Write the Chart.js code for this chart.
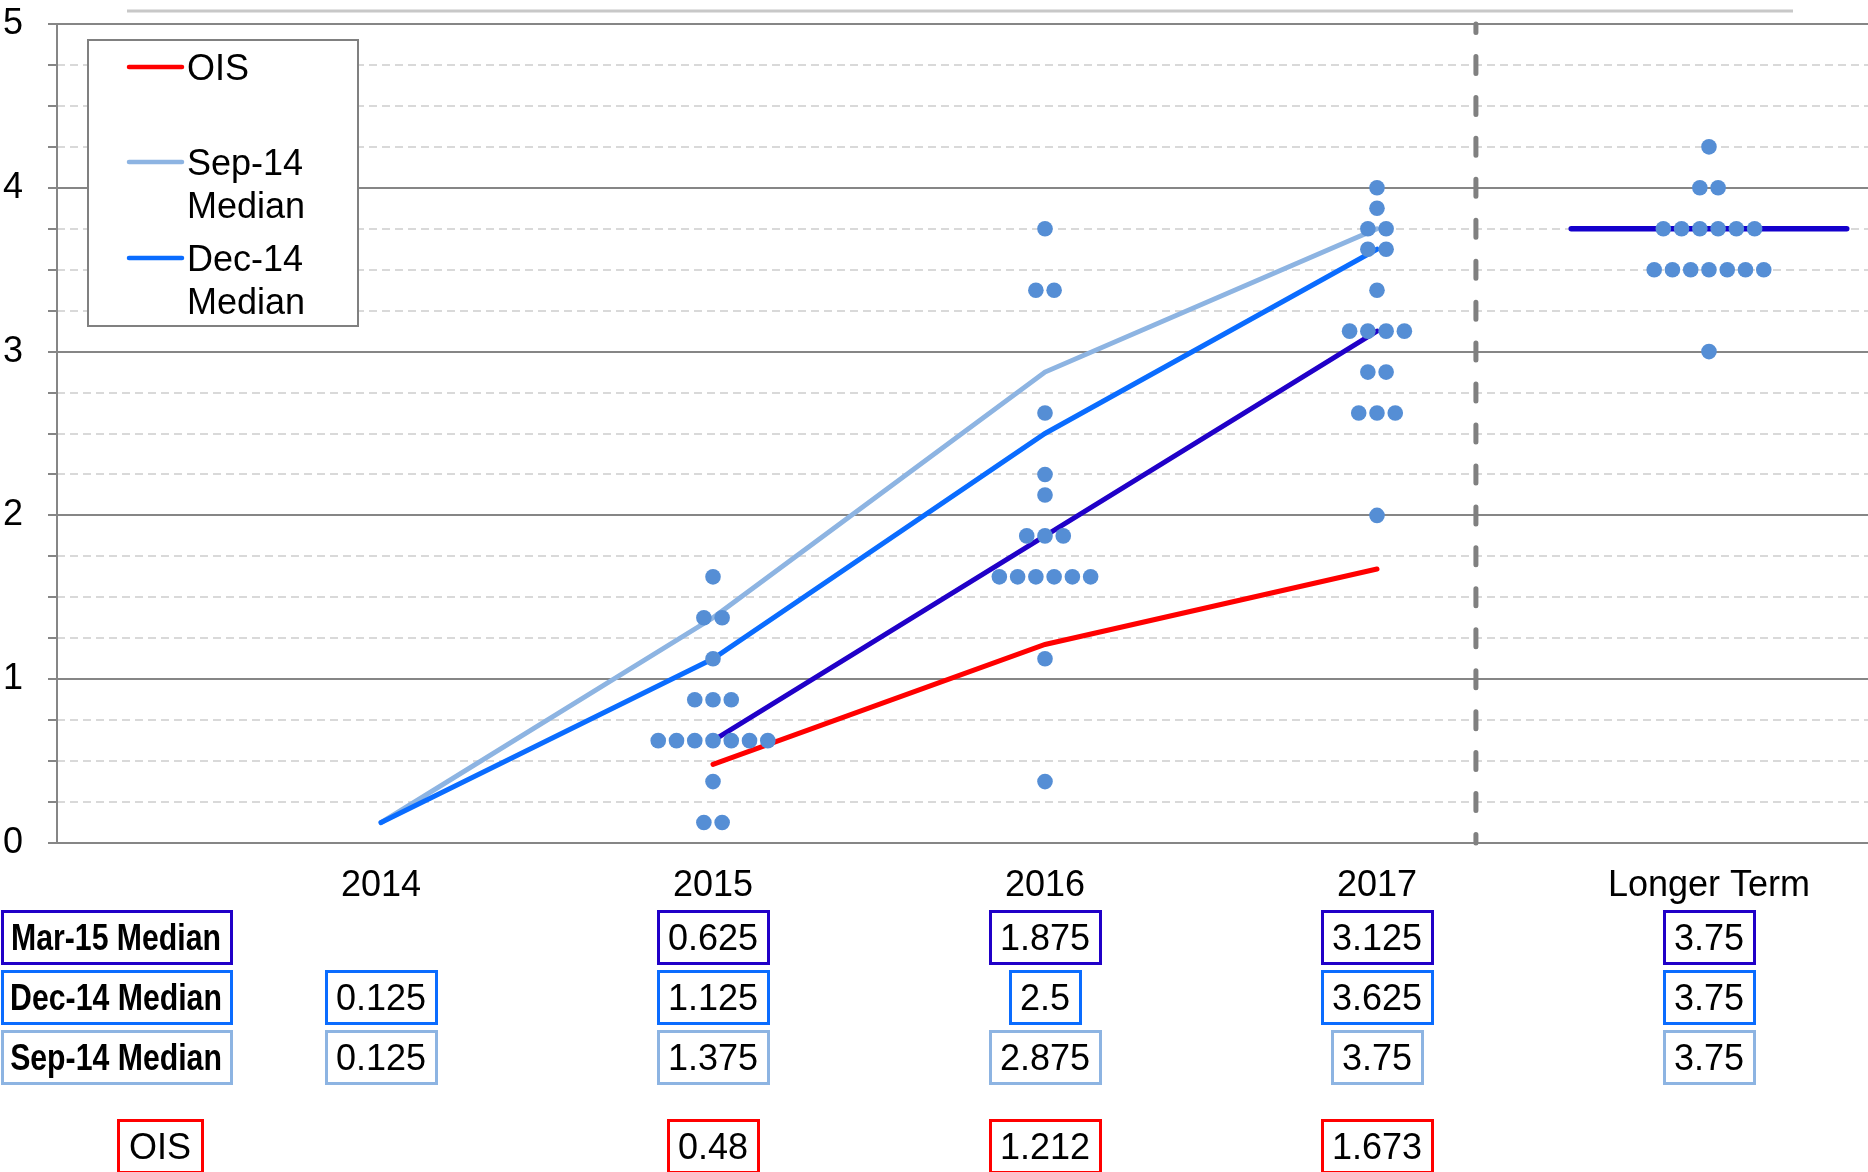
<!DOCTYPE html>
<html>
<head>
<meta charset="utf-8">
<script src="https://cdn.jsdelivr.net/npm/chart.js@4.4.1/dist/chart.umd.min.js"></script>
<style>
  html, body { margin: 0; padding: 0; background: #fff; overflow: hidden; }
  canvas { display: block; }
</style>
</head>
<body>
<canvas id="chart" width="1868" height="1172"></canvas>
<script>
const categories = ['2014', '2015', '2016', '2017', 'Longer Term'];

// each value = one participant dot (March 2015 projections)
const dots2015 = [0.125, 0.125, 0.375, 0.625, 0.625, 0.625, 0.625, 0.625, 0.625, 0.625,
                  0.875, 0.875, 0.875, 1.125, 1.375, 1.375, 1.625];
const dots2016 = [0.375, 1.125, 1.625, 1.625, 1.625, 1.625, 1.625, 1.625, 1.875, 1.875,
                  1.875, 2.125, 2.25, 2.625, 3.375, 3.375, 3.75];
const dots2017 = [2.0, 2.625, 2.625, 2.625, 2.875, 2.875, 3.125, 3.125, 3.125, 3.125,
                  3.375, 3.625, 3.625, 3.75, 3.75, 3.875, 4.0];
const dotsLonger = [3.0, 3.5, 3.5, 3.5, 3.5, 3.5, 3.5, 3.5, 3.75, 3.75, 3.75, 3.75,
                    3.75, 3.75, 4.0, 4.0, 4.25];

const mar15Median = [null, 0.625, 1.875, 3.125, 3.75];
const dec14Median = [0.125, 1.125, 2.5, 3.625, 3.75];
const sep14Median = [0.125, 1.375, 2.875, 3.75, 3.75];
const oisRates = [null, 0.48, 1.212, 1.673, null];

const yTicks = [0, 1, 2, 3, 4, 5];

const FONT = '"Liberation Sans", Arial, sans-serif';
const C_MAR = '#2000c8', C_DEC = '#0a6cff', C_SEP = '#8db4e2', C_OIS = '#ff0000';
const DOT_STEP = 0.055;

Chart.defaults.font.family = FONT;

// lay the dots of one column side by side per rate level
function dotPoints(values, idx) {
  const counts = {};
  values.forEach(v => { counts[v] = (counts[v] || 0) + 1; });
  const pts = [];
  Object.keys(counts).forEach(k => {
    const n = counts[k];
    for (let i = 0; i < n; i++) pts.push({ x: idx + (i - (n - 1) / 2) * DOT_STEP, y: +k });
  });
  return pts;
}

function linePoints(arr) {
  const pts = [];
  for (let i = 0; i < 4; i++) if (arr[i] != null) pts.push({ x: i, y: arr[i] });
  return pts;
}

const allDots = [].concat(dotPoints(dots2015, 1), dotPoints(dots2016, 2),
                          dotPoints(dots2017, 3), dotPoints(dotsLonger, 4));

const lineStyle = { showLine: true, pointRadius: 0, borderWidth: 5, fill: false, borderCapStyle: 'round' };

const datasets = [
  { label: 'Projections', data: allDots, backgroundColor: '#558ed5', borderWidth: 0, pointRadius: 7.8, pointHoverRadius: 7.8 },
  Object.assign({ label: 'OIS', data: linePoints(oisRates), borderColor: C_OIS }, lineStyle),
  Object.assign({ label: 'Mar-15 Median', data: linePoints(mar15Median), borderColor: C_MAR }, lineStyle),
  Object.assign({ label: 'Mar-15 Median LT', data: [{ x: 4 - 0.415, y: mar15Median[4] }, { x: 4 + 0.415, y: mar15Median[4] }], borderColor: '#1400cc' }, lineStyle, { borderWidth: 5.5 }),
  Object.assign({ label: 'Dec-14 Median', data: linePoints(dec14Median), borderColor: C_DEC }, lineStyle),
  Object.assign({ label: 'Sep-14 Median', data: linePoints(sep14Median), borderColor: C_SEP }, lineStyle)
];

const legendRows = [
  { ds: 1, y: 67 },
  { ds: 5, y: 162 },
  { ds: 4, y: 258 }
];

const tableRows = [
  { name: 'Mar-15 Median', values: mar15Median, color: C_MAR, y: 937 },
  { name: 'Dec-14 Median', values: dec14Median, color: C_DEC, y: 996.5 },
  { name: 'Sep-14 Median', values: sep14Median, color: C_SEP, y: 1056.5 },
  { name: 'OIS', values: oisRates, color: C_OIS, y: 1146, plain: true }
];

function box(ctx, cx, cy, w, h, color) {
  ctx.strokeStyle = color;
  ctx.lineWidth = 3;
  ctx.strokeRect(Math.round(cx - w / 2) + 0.5, Math.round(cy - h / 2) + 0.5, Math.round(w), Math.round(h));
}

function noPad(s) {
  s.paddingTop = 0; s.paddingBottom = 0; s.paddingLeft = 0; s.paddingRight = 0;
}

const extras = {
  id: 'extras',
  beforeDatasetsDraw(chart) {
    const ctx = chart.ctx, x = chart.scales.x, y = chart.scales.y, a = chart.chartArea;
    // separator before the longer-run column
    const sx = x.getPixelForValue(3.298);
    const period = Math.abs(y.getPixelForValue(0.25) - y.getPixelForValue(0));
    ctx.save();
    ctx.strokeStyle = '#808080';
    ctx.lineWidth = 5;
    ctx.lineCap = 'round';
    ctx.setLineDash([17, period - 17]);
    ctx.lineDashOffset = 8.5;
    ctx.beginPath();
    ctx.moveTo(sx, a.top);
    ctx.lineTo(sx, a.bottom);
    ctx.stroke();
    ctx.restore();
  },
  afterDraw(chart) {
    const ctx = chart.ctx, x = chart.scales.x;
    ctx.save();
    // faint rule across the top
    ctx.strokeStyle = '#c8c8c8';
    ctx.lineWidth = 3;
    ctx.beginPath();
    ctx.moveTo(127, 11);
    ctx.lineTo(1793, 11);
    ctx.stroke();

    // legend
    ctx.fillStyle = '#fff';
    ctx.fillRect(88, 40, 270, 286);
    ctx.strokeStyle = '#808080';
    ctx.lineWidth = 2;
    ctx.strokeRect(88, 40, 270, 286);
    ctx.font = '36px ' + FONT;
    ctx.textAlign = 'left';
    ctx.textBaseline = 'alphabetic';
    legendRows.forEach(r => {
      const ds = chart.data.datasets[r.ds];
      ctx.strokeStyle = ds.borderColor;
      ctx.lineWidth = 4.5;
      ctx.lineCap = 'round';
      ctx.beginPath();
      ctx.moveTo(129, r.y);
      ctx.lineTo(182, r.y);
      ctx.stroke();
      const parts = ds.label.split(' ');
      ctx.fillStyle = '#000';
      parts.forEach((p, i) => ctx.fillText(p, 187, r.y + 13 + i * 42.5));
    });

    // table under the plot
    ctx.fillStyle = '#000';
    ctx.textAlign = 'center';
    categories.forEach((c, i) => ctx.fillText(c, x.getPixelForValue(i), 896));
    tableRows.forEach(r => {
      if (r.plain) {
        ctx.font = '36px ' + FONT;
        const w = ctx.measureText(r.name).width + 22;
        box(ctx, 160, r.y, w, 52, r.color);
        ctx.fillStyle = '#000';
        ctx.fillText(r.name, 160, r.y + 13);
      } else {
        box(ctx, 116, r.y, 229, 52, r.color);
        ctx.font = 'bold 36px ' + FONT;
        ctx.fillStyle = '#000';
        ctx.save();
        ctx.translate(116, r.y + 13);
        ctx.scale(0.84, 1);
        ctx.fillText(r.name, 0, 0);
        ctx.restore();
      }
      ctx.font = '36px ' + FONT;
      r.values.forEach((v, i) => {
        if (v == null) return;
        const t = String(v);
        const cx = x.getPixelForValue(i);
        const w = ctx.measureText(t).width + 20;
        box(ctx, cx, r.y, w, 52, r.color);
        ctx.fillStyle = '#000';
        ctx.fillText(t, cx, r.y + 13);
      });
    });
    ctx.restore();
  }
};

new Chart(document.getElementById('chart'), {
  type: 'scatter',
  data: { datasets: datasets },
  options: {
    responsive: false,
    devicePixelRatio: 1,
    animation: false,
    layout: { autoPadding: false, padding: { left: 3, top: 24, right: 0, bottom: 329 } },
    plugins: { legend: { display: false }, tooltip: { enabled: false } },
    scales: {
      x: { type: 'linear', min: -0.976, max: 4.479, display: false, afterFit: noPad },
      y: {
        min: 0, max: 5,
        afterBuildTicks(s) {
          const t = [];
          for (let v = yTicks[0]; v <= yTicks[yTicks.length - 1] + 1e-9; v += 0.25) t.push({ value: v });
          s.ticks = t;
        },
        afterFit(s) { s.width = 54; noPad(s); },
        ticks: {
          autoSkip: false, padding: 25, color: '#000', font: { size: 36 },
          callback: v => yTicks.includes(v) ? String(v) : ''
        },
        grid: {
          color: c => (c.tick && yTicks.includes(c.tick.value)) ? '#868686' : 'rgba(0,0,0,0)',
          lineWidth: 2, tickLength: 9, tickColor: '#868686', tickWidth: 2
        },
        border: { color: '#868686', width: 2 }
      },
      y2: {
        position: 'right', min: 0, max: 5,
        afterBuildTicks(s) {
          const t = [];
          for (let v = 0; v <= 5 + 1e-9; v += 0.25) t.push({ value: v });
          s.ticks = t;
        },
        afterFit(s) { s.width = 0; noPad(s); },
        ticks: { display: false },
        grid: {
          color: c => (c.tick && Number.isInteger(c.tick.value)) ? 'rgba(0,0,0,0)' : '#d9d9d9',
          lineWidth: 2, drawTicks: false
        },
        border: { display: false, dash: [8, 5] }
      }
    }
  },
  plugins: [extras]
});
</script>
</body>
</html>
